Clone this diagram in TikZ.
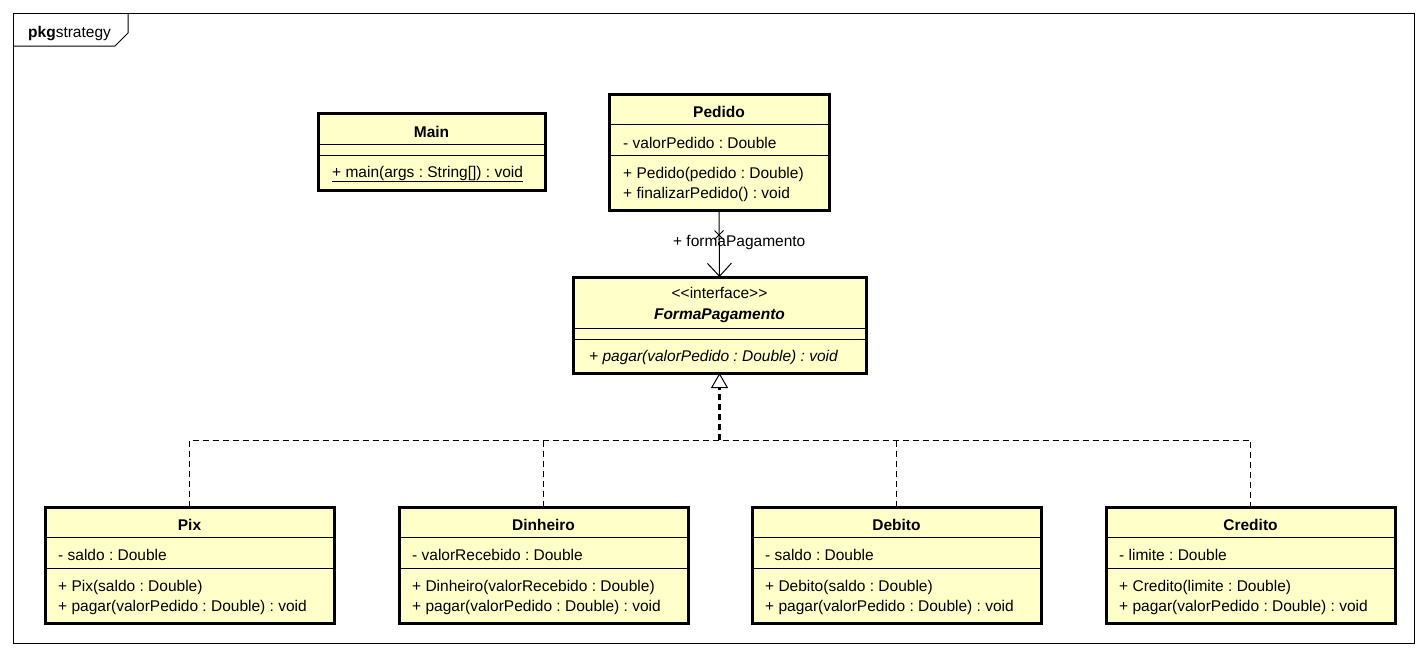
\documentclass[tikz,border=0pt]{standalone}
\usepackage{fontspec}
\newfontfamily\umlfont{Liberation Sans}
\usetikzlibrary{arrows.meta,shapes.misc}
\definecolor{classfill}{RGB}{255,255,202}
\frenchspacing

\begin{document}
\begin{tikzpicture}[x=1pt,y=-1pt,
    font=\umlfont\fontsize{15.5}{18}\selectfont,
    classbox/.style={draw,line width=3pt,fill=classfill,inner sep=0pt,outer sep=0pt,anchor=north west},
    sepline/.style={line width=1pt},
    txt/.style={inner sep=0pt,anchor=base west},
    classname/.style={inner sep=0pt,anchor=base,font=\umlfont\fontsize{15.5}{18}\selectfont\bfseries},
    impl/.style={dash pattern=on 6pt off 4pt,line width=1pt}]
       \useasboundingbox (0,0) rectangle (1426,656);
       % package frame
       \draw[line width=1pt] (13,13) rectangle (1414,643);
       \draw[line width=1pt] (13,46) -- (115,46) -- (128,33) -- (128,13);
       \node[txt] (pkglbl) at (28,37) {\textbf{pkg}strategy};
       % Main
       \node[classbox,minimum width=227pt,minimum height=77pt] (main) at (318,113) {};
       \draw[sepline] ([yshift=-31pt]main.north west) -- ([yshift=-31pt]main.north east);
       \draw[sepline] ([yshift=-42pt]main.north west) -- ([yshift=-42pt]main.north east);
       \node[classname] (mainname) at ([yshift=-24pt]main.north) {Main};
       \node[txt] (mainop) at ([xshift=14pt,yshift=-64pt]main.north west) {\underline{+ main(args : String[]) : void}};
       % Pedido
       \node[classbox,minimum width=220pt,minimum height=116pt] (pedido) at (609,94) {};
       \draw[sepline] ([yshift=-30pt]pedido.north west) -- ([yshift=-30pt]pedido.north east);
       \draw[sepline] ([yshift=-61pt]pedido.north west) -- ([yshift=-61pt]pedido.north east);
       \node[classname] (pedidoname) at ([yshift=-23pt]pedido.north) {Pedido};
       \node[txt] (pedidoattr) at ([xshift=14pt,yshift=-54pt]pedido.north west) {- valorPedido : Double};
       \node[txt] (pedidoopa) at ([xshift=14pt,yshift=-84pt]pedido.north west) {+ Pedido(pedido : Double)};
       \node[txt] (pedidoopb) at ([xshift=14pt,yshift=-104pt]pedido.north west) {+ finalizarPedido() : void};
       % FormaPagamento
       \node[classbox,minimum width=293pt,minimum height=96pt] (iface) at (573,277) {};
       \draw[sepline] ([yshift=-51pt]iface.north west) -- ([yshift=-51pt]iface.north east);
       \draw[sepline] ([yshift=-62pt]iface.north west) -- ([yshift=-62pt]iface.north east);
       \node[inner sep=0pt,anchor=base] (ifacestereo) at ([yshift=-21pt]iface.north) {<<interface>>};
       \node[classname] (ifacename) at ([yshift=-42pt]iface.north) {\itshape FormaPagamento};
       \node[txt] (ifaceop) at ([xshift=16pt,yshift=-84pt]iface.north west) {\itshape + pagar(valorPedido : Double) : void};
       % Pix
       \node[classbox,minimum width=289pt,minimum height=116pt] (pix) at (45,507) {};
       \draw[sepline] ([yshift=-30pt]pix.north west) -- ([yshift=-30pt]pix.north east);
       \draw[sepline] ([yshift=-61pt]pix.north west) -- ([yshift=-61pt]pix.north east);
       \node[classname] (pixname) at ([yshift=-23pt]pix.north) {Pix};
       \node[txt] (pixattr) at ([xshift=13pt,yshift=-53pt]pix.north west) {- saldo : Double};
       \node[txt] (pixopa) at ([xshift=13pt,yshift=-84pt]pix.north west) {+ Pix(saldo : Double)};
       \node[txt] (pixopb) at ([xshift=13pt,yshift=-104pt]pix.north west) {+ pagar(valorPedido : Double) : void};
       % Dinheiro
       \node[classbox,minimum width=289pt,minimum height=116pt] (dinheiro) at (399,507) {};
       \draw[sepline] ([yshift=-30pt]dinheiro.north west) -- ([yshift=-30pt]dinheiro.north east);
       \draw[sepline] ([yshift=-61pt]dinheiro.north west) -- ([yshift=-61pt]dinheiro.north east);
       \node[classname] (dinheironame) at ([yshift=-23pt]dinheiro.north) {Dinheiro};
       \node[txt] (dinheiroattr) at ([xshift=13pt,yshift=-53pt]dinheiro.north west) {- valorRecebido : Double};
       \node[txt] (dinheiroopa) at ([xshift=13pt,yshift=-84pt]dinheiro.north west) {+ Dinheiro(valorRecebido : Double)};
       \node[txt] (dinheiroopb) at ([xshift=13pt,yshift=-104pt]dinheiro.north west) {+ pagar(valorPedido : Double) : void};
       % Debito
       \node[classbox,minimum width=289pt,minimum height=116pt] (debito) at (752,507) {};
       \draw[sepline] ([yshift=-30pt]debito.north west) -- ([yshift=-30pt]debito.north east);
       \draw[sepline] ([yshift=-61pt]debito.north west) -- ([yshift=-61pt]debito.north east);
       \node[classname] (debitoname) at ([yshift=-23pt]debito.north) {Debito};
       \node[txt] (debitoattr) at ([xshift=13pt,yshift=-53pt]debito.north west) {- saldo : Double};
       \node[txt] (debitoopa) at ([xshift=13pt,yshift=-84pt]debito.north west) {+ Debito(saldo : Double)};
       \node[txt] (debitoopb) at ([xshift=13pt,yshift=-104pt]debito.north west) {+ pagar(valorPedido : Double) : void};
       % Credito
       \node[classbox,minimum width=289pt,minimum height=116pt] (credito) at (1106,507) {};
       \draw[sepline] ([yshift=-30pt]credito.north west) -- ([yshift=-30pt]credito.north east);
       \draw[sepline] ([yshift=-61pt]credito.north west) -- ([yshift=-61pt]credito.north east);
       \node[classname] (creditoname) at ([yshift=-23pt]credito.north) {Credito};
       \node[txt] (creditoattr) at ([xshift=13pt,yshift=-53pt]credito.north west) {- limite : Double};
       \node[txt] (creditoopa) at ([xshift=13pt,yshift=-84pt]credito.north west) {+ Credito(limite : Double)};
       \node[txt] (creditoopb) at ([xshift=13pt,yshift=-104pt]credito.north west) {+ pagar(valorPedido : Double) : void};
       % association
       \draw[line width=1pt,-{Straight Barb[length=13pt,width=24pt]}] (pedido.south) --
         node[pos=0.48,xshift=20pt,inner sep=0pt] (rolelbl) {+ formaPagamento} (iface.north);
       \node[draw,cross out,line width=1pt,minimum size=8pt,inner sep=0pt] (navx) at ([yshift=-25pt]pedido.south) {};
       % realization
       \coordinate (junc) at ([yshift=-67pt]iface.south);
       \draw[impl] (pix.north) |- (junc) -| (credito.north);
       \draw[impl] (dinheiro.north) -- (dinheiro.north |- junc);
       \draw[impl] (debito.north) -- (debito.north |- junc);
       \draw[impl,line width=2.5pt,-{Triangle[open,length=15pt,width=17pt,line width=1pt]}] (junc) -- (iface.south);
     \end{tikzpicture}
\end{document}
